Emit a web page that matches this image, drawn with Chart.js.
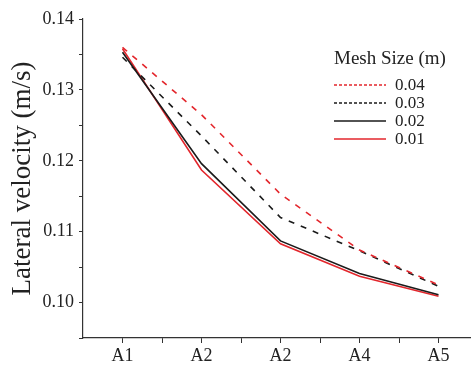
<!DOCTYPE html>
<html>
<head>
<meta charset="utf-8">
<title>Lateral velocity</title>
<script src="https://cdn.jsdelivr.net/npm/chart.js@4.4.1/dist/chart.umd.min.js"></script>
<style>
    html, body { margin: 0; padding: 0; background: #fff; }
    #wrap { width: 471px; height: 365px; overflow: hidden; }
</style>
</head>
<body>
<div id="wrap">
    <canvas id="velChart" width="480" height="365"></canvas>
</div>
<script>
    // Data
    const categories = ['A1', 'A2', 'A2', 'A4', 'A5'];
    const meshSizes = ['0.04', '0.03', '0.02', '0.01'];
    const mesh004 = [0.1360, 0.1265, 0.1153, 0.1074, 0.1025];
    const mesh003 = [0.1346, 0.1235, 0.1120, 0.1073, 0.1023];
    const mesh002 = [0.1353, 0.1196, 0.1087, 0.1041, 0.1011];
    const mesh001 = [0.1358, 0.1187, 0.1083, 0.1037, 0.1009];
    const yTicks = [0.10, 0.11, 0.12, 0.13, 0.14];

    const FONT = "'Liberation Serif', 'Times New Roman', serif";
    const RED = '#e3262c';
    const BLACK = '#1a1a1a';

    function toPoints(values) {
        return values.map((v, i) => ({ x: i + 1, y: v }));
    }

    function isMajor(v) {
        return yTicks.some(t => Math.abs(t - v) < 1e-6);
    }

    // Legend drawn inside the plot, one column, like the original
    const insideLegend = {
        id: 'insideLegend',
        afterDraw(chart) {
            const ctx = chart.ctx;
            ctx.save();
            ctx.font = '19px ' + FONT;
            ctx.fillStyle = '#222';
            ctx.textBaseline = 'alphabetic';
            ctx.fillText('Mesh Size (m)', 334, 64);
            ctx.font = '17px ' + FONT;
            const rows = [85, 103, 121, 139];
            chart.data.datasets.forEach((ds, i) => {
                const y = rows[i];
                ctx.beginPath();
                ctx.strokeStyle = ds.borderColor;
                ctx.lineWidth = ds.borderWidth;
                ctx.setLineDash(ds.borderDash.length ? [3, 2] : []);
                ctx.moveTo(334, y);
                ctx.lineTo(386, y);
                ctx.stroke();
                ctx.setLineDash([]);
                ctx.textBaseline = 'middle';
                ctx.fillStyle = '#222';
                ctx.fillText(ds.label, 395, y + 1);
            });
            ctx.restore();
        }
    };

    const velChart = new Chart(document.getElementById('velChart'), {
        type: 'line',
        data: {
            datasets: [{
                label: meshSizes[0],
                data: toPoints(mesh004),
                borderColor: RED,
                borderWidth: 1.6,
                borderDash: [6, 7]
            }, {
                label: meshSizes[1],
                data: toPoints(mesh003),
                borderColor: BLACK,
                borderWidth: 1.6,
                borderDash: [6, 7]
            }, {
                label: meshSizes[2],
                data: toPoints(mesh002),
                borderColor: BLACK,
                borderWidth: 1.6,
                borderDash: []
            }, {
                label: meshSizes[3],
                data: toPoints(mesh001),
                borderColor: RED,
                borderWidth: 1.6,
                borderDash: []
            }]
        },
        options: {
            responsive: false,
            animation: false,
            devicePixelRatio: 1,
            layout: {
                padding: { top: 19, right: 0, bottom: 0, left: 0 }
            },
            elements: {
                point: { radius: 0 },
                line: { tension: 0 }
            },
            plugins: {
                legend: { display: false },
                tooltip: { enabled: false }
            },
            scales: {
                x: {
                    type: 'linear',
                    min: 0.5,
                    max: 5.5,
                    afterBuildTicks(scale) {
                        const t = [];
                        for (let v = 1; v <= 5.5; v += 0.5) t.push({ value: v });
                        scale.ticks = t;
                    },
                    afterFit(scale) { scale.height = 27; },
                    border: { color: '#333', width: 1.2 },
                    grid: {
                        drawOnChartArea: false,
                        tickLength: 5,
                        color: '#333'
                    },
                    ticks: {
                        autoSkip: false,
                        maxRotation: 0,
                        padding: 2,
                        color: '#222',
                        font: { family: FONT, size: 18 },
                        callback: v => Number.isInteger(v) ? categories[v - 1] : ''
                    }
                },
                y: {
                    min: 0.095,
                    max: 0.14,
                    afterBuildTicks(scale) {
                        const t = [];
                        for (let k = 0; k <= 9; k++) t.push({ value: 0.095 + k * 0.005 });
                        scale.ticks = t;
                    },
                    afterFit(scale) { scale.width = 83; },
                    border: { color: '#333', width: 1.2 },
                    grid: {
                        drawOnChartArea: false,
                        tickLength: 4,
                        color: '#333'
                    },
                    title: {
                        display: true,
                        text: 'Lateral velocity (m/s)',
                        color: '#222',
                        font: { family: FONT, size: 27 },
                        padding: { top: 7, bottom: 0 }
                    },
                    ticks: {
                        padding: 5,
                        color: '#222',
                        font: { family: FONT, size: 18 },
                        callback: v => isMajor(v) ? v.toFixed(2) : ''
                    }
                }
            }
        },
        plugins: [insideLegend]
    });
</script>
</body>
</html>
